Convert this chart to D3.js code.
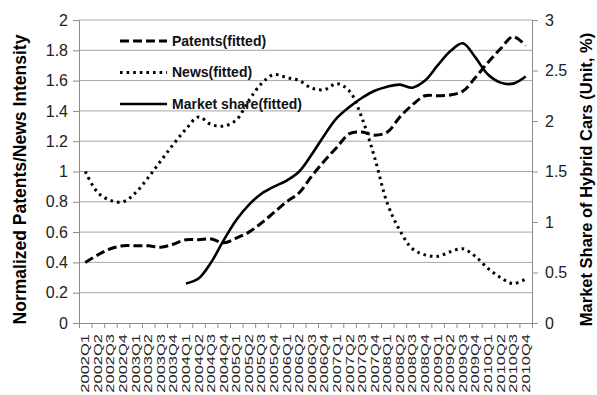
<!DOCTYPE html>
<html>
  <head>
    <meta charset="utf-8">
    <title>Patents, news and hybrid car market share</title>
    <script src="https://cdn.jsdelivr.net/npm/d3@7"></script>
    <style>
      body { margin: 0; background: #fff; }
      svg { font-family: "Liberation Sans", Arial, sans-serif; }
      .grid line { stroke: #a6a6a6; stroke-width: 1; }
      .axis path, .axis line { stroke: #8c8c8c; }
      .axis text { fill: #222; }
      .series { fill: none; stroke: #000; }
    </style>
  </head>
  <body>
    <svg id="chart" width="597" height="395"></svg>
    <script>
      // quarters 2002Q1 .. 2010Q4
      years = d3.range(2002, 2011);
      quarters = [];
      years.forEach(function(y) {
        for (q = 1; q <= 4; q = q + 1) quarters.push(y + "Q" + q);
      });
      leftTicks = [0, 0.2, 0.4, 0.6, 0.8, 1, 1.2, 1.4, 1.6, 1.8, 2];
      rightTicks = [0, 0.5, 1, 1.5, 2, 2.5, 3];
      seriesNames = ["Patents(fitted)", "News(fitted)", "Market share(fitted)"];
      // values
      patents = [0.40, 0.45, 0.49, 0.51, 0.51, 0.51, 0.50, 0.52, 0.55, 0.55, 0.555, 0.53,
                 0.56, 0.60, 0.66, 0.73, 0.80, 0.86, 0.97, 1.07, 1.16, 1.25, 1.26, 1.24,
                 1.26, 1.36, 1.44, 1.50, 1.50, 1.505, 1.53, 1.62, 1.72, 1.81, 1.89, 1.83];
      news = [1.00, 0.86, 0.81, 0.80, 0.86, 0.96, 1.07, 1.18, 1.28, 1.36, 1.31, 1.30,
              1.34, 1.47, 1.58, 1.64, 1.62, 1.60, 1.55, 1.54, 1.58, 1.53, 1.35, 1.09,
              0.79, 0.61, 0.49, 0.45, 0.44, 0.47, 0.49, 0.44, 0.36, 0.30, 0.26, 0.29];
      // market share starts at 2004Q1
      marketShare = [null, null, null, null, null, null, null, null,
                     0.39, 0.44, 0.60, 0.82, 1.02, 1.17, 1.28, 1.35, 1.41, 1.50, 1.67, 1.86,
                     2.03, 2.14, 2.23, 2.30, 2.34, 2.36, 2.33, 2.40, 2.55, 2.69, 2.77, 2.63,
                     2.46, 2.38, 2.37, 2.44];

      svg = d3.select("#chart");
      margin = { top: 20, right: 65, bottom: 72, left: 79 };
      width = 597 - margin.left - margin.right;
      height = 395 - margin.top - margin.bottom;
      g = svg.append("g")
        .attr("transform", "translate(" + margin.left + "," + margin.top + ")");

      x = d3.scaleBand().domain(quarters).range([0, width]).padding(0);
      xEdge = d3.scaleLinear().domain([0, quarters.length]).range([0, width]);
      yLeft = d3.scaleLinear().domain([0, 2]).range([height, 0]);
      yRight = d3.scaleLinear().domain([0, 3]).range([height, 0]);

      // gridlines
      g.append("g").attr("class", "grid")
        .selectAll("line")
        .data(leftTicks.slice(1))
        .join("line")
          .attr("x1", 0).attr("x2", width)
          .attr("y1", function(d) { return yLeft(d); })
          .attr("y2", function(d) { return yLeft(d); });

      // left axis
      g.append("g").attr("class", "axis")
        .call(d3.axisLeft(yLeft).tickValues(leftTicks).tickSize(6).tickPadding(5)
          .tickFormat(d3.format("~g")))
        .call(function(a) { a.selectAll("text").style("font-size", "16px"); });

      // right axis
      g.append("g").attr("class", "axis")
        .attr("transform", "translate(" + width + ",0)")
        .call(d3.axisRight(yRight).tickValues(rightTicks).tickSize(6).tickPadding(7)
          .tickFormat(d3.format("~g")))
        .call(function(a) { a.selectAll("text").style("font-size", "16px"); });

      // bottom axis: ticks at quarter boundaries
      g.append("g").attr("class", "axis")
        .attr("transform", "translate(0," + height + ")")
        .call(d3.axisBottom(xEdge).tickValues(d3.range(quarters.length + 1))
          .tickSize(5).tickSizeOuter(0).tickFormat(""));

      g.append("g")
        .selectAll("text")
        .data(quarters)
        .join("text")
          .attr("transform", function(d) {
            return "translate(" + (x(d) + x.bandwidth() / 2 + 4) + "," + (height + 11) + ") rotate(-90) scale(1.5,1)";
          })
          .attr("text-anchor", "end")
          .style("font-size", "11px")
          .style("fill", "#222")
          .text(function(d) { return d; });

      // series
      cx = function(i) { return x(quarters[i]) + x.bandwidth() / 2; };
      lineLeft = d3.line()
        .defined(function(d) { return d != null; })
        .x(function(d, i) { return cx(i); })
        .y(function(d) { return yLeft(d); })
        .curve(d3.curveCatmullRom);
      lineRight = d3.line()
        .defined(function(d) { return d != null; })
        .x(function(d, i) { return cx(i); })
        .y(function(d) { return yRight(d); })
        .curve(d3.curveCatmullRom);

      styles = [
        { dash: "9 4", width: 3 },
        { dash: "2.6 4", width: 3 },
        { dash: null, width: 2.6 }
      ];

      g.append("path").datum(news).attr("class", "series")
        .attr("d", lineLeft)
        .style("stroke-width", styles[1].width)
        .style("stroke-dasharray", styles[1].dash);
      g.append("path").datum(patents).attr("class", "series")
        .attr("d", lineLeft)
        .style("stroke-width", styles[0].width)
        .style("stroke-dasharray", styles[0].dash);
      g.append("path").datum(marketShare).attr("class", "series")
        .attr("d", lineRight)
        .style("stroke-width", styles[2].width);

      // legend
      legend = g.append("g").attr("transform", "translate(41,21)");
      seriesNames.forEach(function(name, i) {
        let row = legend.append("g").attr("transform", "translate(0," + (i * 31.5) + ")");
        row.append("line")
          .attr("x1", 0).attr("x2", 47)
          .style("stroke", "#000")
          .style("stroke-width", styles[i].width)
          .style("stroke-dasharray", styles[i].dash);
        row.append("text")
          .attr("x", 52).attr("dy", "0.35em")
          .style("font-size", "14px")
          .style("font-weight", "bold")
          .style("fill", "#111")
          .text(name);
      });

      // axis titles
      svg.append("text")
        .attr("transform", "translate(20," + (margin.top + height / 2 + 8) + ") rotate(-90)")
        .attr("text-anchor", "middle")
        .attr("dy", "0.35em")
        .style("font-size", "17.5px")
        .style("font-weight", "bold")
        .text("Normalized Patents/News Intensity");
        svg.append("text")
        .attr("transform", "translate(586," + (margin.top + height / 2 + 8) + ") rotate(-90)")
        .attr("text-anchor", "middle")
        .attr("dy", "0.35em")
        .style("font-size", "16.5px")
        .style("font-weight", "bold")
        .text("Market Share of Hybrid Cars (Unit, %)");
    </script>
  </body>
</html>
